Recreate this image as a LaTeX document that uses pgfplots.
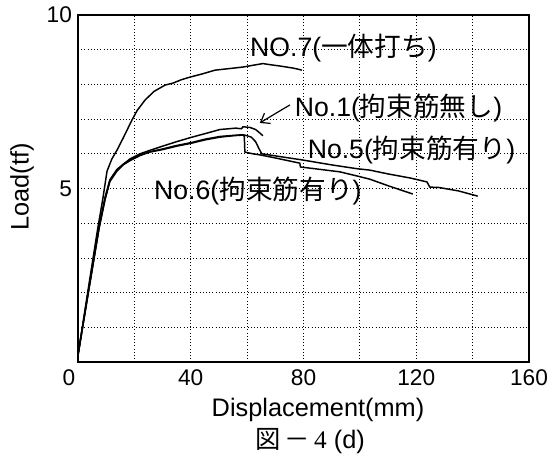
\documentclass[border=0pt]{standalone}
\usepackage{fontspec}
\setmainfont{Liberation Sans}
\newfontfamily\cjk{Noto Sans CJK JP}
\newfontfamily\serifn{Liberation Serif}
\usepackage{pgfplots}
\pgfplotsset{compat=1.18}
\usetikzlibrary{arrows.meta}
\pgfplotsset{curve/.style={black, solid, mark=none, line width=1.1pt, line join=round}}
\begin{document}
\begin{tikzpicture}
\useasboundingbox (-58.5pt,-74.25pt) rectangle (356.25pt,271.5pt);
\begin{axis}[
  at={(0,0)}, anchor=south west,
  scale only axis, width=338.25pt, height=260.25pt,
  xmin=0, xmax=160, ymin=0, ymax=10,
  xtick={0,20,...,160},
  xticklabels={\makebox[0pt][r]{0\hspace{2pt}},,40,,80,,120,,160},
  ytick={0,1,...,10},
  yticklabels={,,,,,5,,,,,10},
  major tick length=0pt,
  grid=major,
  grid style={dotted, black, line width=0.6pt},
  axis line style={line width=0.9pt},
  /pgf/number format/assume math mode=true,
  tick label style={font=\fontsize{17}{20}\selectfont},
  xticklabel style={yshift=-2pt},
  yticklabel style={xshift=-1pt},
  clip=false,
]
% NO.7
\addplot[curve] coordinates {(0,0.2)(4,2.3)(7,3.85)(8.8,4.7)(10.3,5.5)(12,5.85)(13.8,6.1)(16,6.45)(19,6.95)(21,7.25)(23.8,7.55)(27,7.8)(30.9,7.98)(33.8,8.04)(36.5,8.13)(39.7,8.21)(44,8.3)(48.6,8.41)(53,8.45)(58.5,8.5)(62,8.55)(65.6,8.6)(68,8.57)(71.6,8.53)(74,8.5)(76.3,8.47)(78,8.44)(79.4,8.41)};
% No.1
\addplot[curve] coordinates {(0,0.2)(4,2.2)(7.5,3.9)(9.6,4.75)(11.3,5.25)(13.8,5.55)(18.4,5.85)(22,6.0)(25.5,6.1)(30,6.22)(35,6.35)(40,6.47)(45,6.58)(50.4,6.7)(56,6.74)(58,6.72)(58.5,6.78)(61,6.76)(63,6.7)(64.5,6.6)(65.6,6.52)};
% No.6
\addplot[curve] coordinates {(0,0.2)(4,2.15)(7.5,3.85)(9.6,4.68)(11.3,5.2)(13.8,5.5)(16,5.68)(18.4,5.8)(22,5.95)(25.5,6.05)(30,6.12)(35,6.22)(40,6.3)(45,6.4)(50.4,6.48)(55,6.52)(58.5,6.54)(59,6.5)(59.2,6.05)(62,6.0)(64.5,5.97)(70,5.88)(78.7,5.73)(78.9,5.62)(85,5.56)(92.9,5.48)(98,5.38)(103.5,5.27)(110,5.08)(118.8,4.84)};
% No.5
\addplot[curve] coordinates {(0,0.2)(4,2.2)(7.5,3.9)(9.6,4.7)(11.3,5.22)(13.8,5.52)(16,5.7)(18.4,5.82)(22,5.96)(25.5,6.06)(30,6.14)(35,6.24)(40,6.32)(45,6.42)(50.4,6.5)(55,6.53)(58.5,6.55)(60,6.52)(61.5,6.48)(63,6.35)(64.2,6.15)(65.2,6.0)(70,5.94)(79.8,5.82)(90,5.68)(99,5.57)(103.5,5.53)(110,5.42)(118,5.3)(123.8,5.19)(124.8,5.04)(128,5.03)(135,4.93)(141.8,4.78)};
\draw[-{Straight Barb[length=6pt,width=9pt]}, line width=0.9pt] (axis cs:75.2,7.41) -- (axis cs:64.5,6.89);
\path[font=\fontsize{20}{24}\selectfont]
  (axis cs:94.2,9.05) node {NO.7({\cjk 一体打ち})}
  (axis cs:113.7,7.32) node {No.1({\cjk 拘束筋無し})}
  (axis cs:118.3,6.11) node {No.5({\cjk 拘束筋有り})}
  (axis cs:63.8,4.93) node {No.6({\cjk 拘束筋有り})};
\end{axis}
\node[rotate=90, font=\fontsize{19}{22}\selectfont] at (-42pt,131.25pt) {Load(tf)};
\node[font=\fontsize{19}{22}\selectfont] at (180pt,-36pt) {Displacement(mm)};
\node[font=\fontsize{19}{22}\selectfont] at (174pt,-59.25pt) {{\cjk 図}\,{\cjk －}\,{\serifn 4} (d)};
\end{tikzpicture}
\end{document}
